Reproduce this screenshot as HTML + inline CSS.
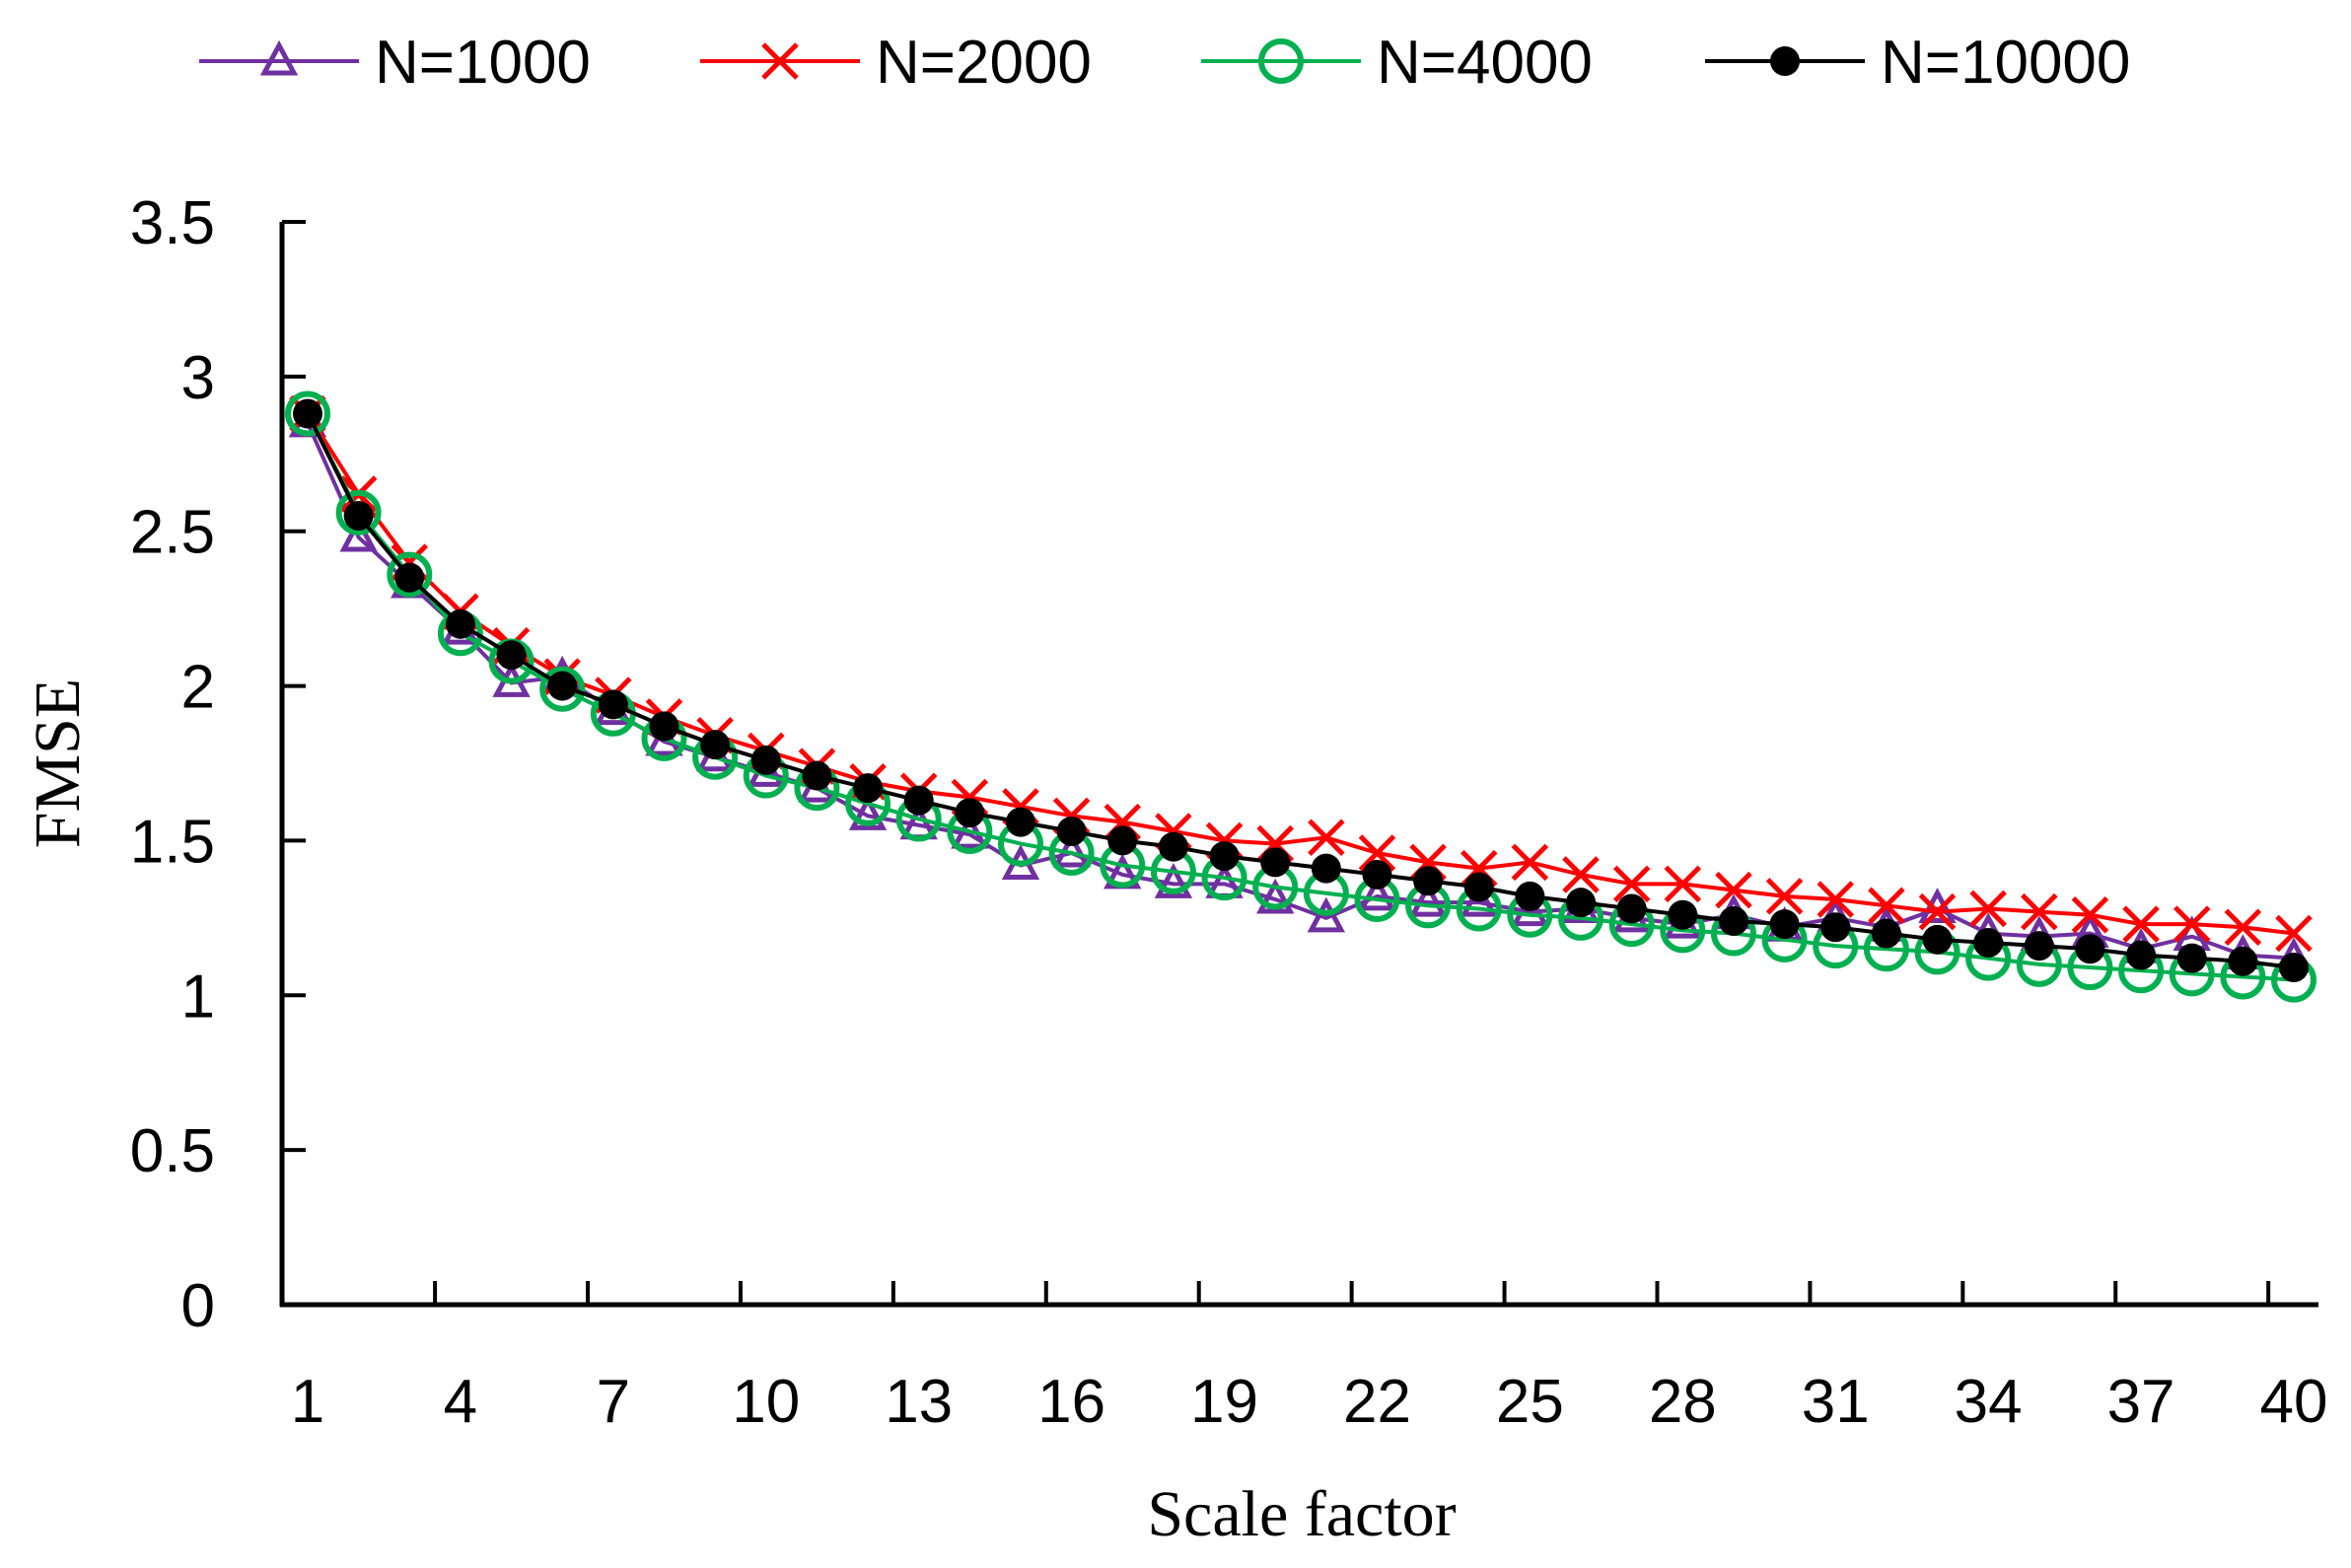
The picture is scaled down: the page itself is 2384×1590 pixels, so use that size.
<!DOCTYPE html>
<html><head><meta charset="utf-8"><style>
html,body{margin:0;padding:0;background:#fff;}
svg{display:block;}
.tick{font-family:"Liberation Sans",sans-serif;font-size:62px;fill:#000;}
.title{font-family:"Liberation Serif",serif;font-size:66px;fill:#000;}
</style></head><body>
<svg id="chart" width="2384" height="1590" viewBox="0 0 2384 1590" xmlns="http://www.w3.org/2000/svg">
<g id="legend"></g>
<g id="axes"></g>
<g id="series"></g>
<text class="title" x="1320" y="1557" text-anchor="middle">Scale factor</text>
<text class="title" transform="translate(80,774) rotate(-90)" text-anchor="middle">FMSE</text>
</svg>
<script>
const categories = Array.from({length:40},(_,i)=>i+1);
const yTicks = [0,0.5,1,1.5,2,2.5,3,3.5];
const yTickLabels = ["0","0.5","1","1.5","2","2.5","3","3.5"];
const xLabelValues = [1,4,7,10,13,16,19,22,25,28,31,34,37,40];
const n1000 = [2.85,2.48,2.33,2.18,2.01,2.03,1.92,1.82,1.77,1.72,1.67,1.58,1.55,1.52,1.42,1.46,1.39,1.36,1.36,1.31,1.25,1.32,1.3,1.3,1.27,1.28,1.25,1.23,1.26,1.22,1.25,1.22,1.28,1.2,1.19,1.2,1.15,1.19,1.13,1.12];
const n2000 = [2.88,2.62,2.4,2.24,2.13,2.03,1.97,1.9,1.84,1.79,1.74,1.69,1.66,1.64,1.61,1.58,1.56,1.53,1.5,1.49,1.51,1.46,1.43,1.41,1.43,1.39,1.36,1.36,1.34,1.32,1.31,1.29,1.27,1.28,1.27,1.26,1.23,1.23,1.22,1.2];
const n4000 = [2.88,2.56,2.36,2.17,2.08,1.99,1.91,1.83,1.77,1.71,1.67,1.62,1.57,1.53,1.49,1.46,1.42,1.4,1.38,1.35,1.33,1.31,1.29,1.28,1.26,1.25,1.23,1.21,1.2,1.18,1.16,1.15,1.14,1.12,1.1,1.09,1.08,1.07,1.06,1.05];
const n10000 = [2.88,2.55,2.35,2.2,2.1,2.0,1.94,1.87,1.81,1.76,1.71,1.67,1.63,1.59,1.56,1.53,1.5,1.48,1.45,1.43,1.41,1.39,1.37,1.35,1.32,1.3,1.28,1.26,1.24,1.23,1.22,1.2,1.18,1.17,1.16,1.15,1.13,1.12,1.11,1.09];

const NS="http://www.w3.org/2000/svg";
const X0=286, XR=2351, Y0=1323, YT=225;
const step=(2326-312)/39;
const x = c => 312 + (c-1)*step;
const y = v => Y0 - v*(Y0-YT)/3.5;
function mk(tag, attrs, parent){const e=document.createElementNS(NS,tag);for(const k in attrs)e.setAttribute(k,attrs[k]);parent.appendChild(e);return e;}

const axes=document.getElementById('axes');
let e=mk('line',{x1:X0,y1:YT,x2:X0,y2:Y0+2,stroke:'#000','stroke-width':5},axes);


e=mk('line',{x1:X0-2,y1:Y0,x2:XR,y2:Y0,stroke:'#000','stroke-width':5},axes);


yTicks.forEach((v,i)=>{
  let t=mk('line',{x1:X0,y1:y(v),x2:X0+24,y2:y(v),stroke:'#000','stroke-width':4},axes);
  
  
  let l=mk('text',{x:X0-68,y:y(v)+22,'text-anchor':'end',class:'tick'},axes);
  l.textContent=yTickLabels[i];
  
  
});
for(let k=1;k<=13;k++){
  const px=x(0.5+3*k);
  let t=mk('line',{x1:px,y1:Y0,x2:px,y2:Y0-24,stroke:'#000','stroke-width':4},axes);
  
  
}
xLabelValues.forEach(c=>{
  let l=mk('text',{x:x(c),y:1442,'text-anchor':'middle',class:'tick'},axes);
  l.textContent=String(c);
  
  
});

function marker(type,cx,cy,color,g){
  let m;
  if(type==='tri'){m=mk('polygon',{points:`${cx},${cy-16} ${cx-15},${cy+12} ${cx+15},${cy+12}`,fill:'none',stroke:color,'stroke-width':5},g);}
  else if(type==='x'){m=mk('path',{d:`M${cx-17},${cy-17}L${cx+17},${cy+17}M${cx-17},${cy+17}L${cx+17},${cy-17}`,stroke:color,'stroke-width':5,fill:'none'},g);}
  else if(type==='circle'){m=mk('circle',{cx:cx,cy:cy,r:20,fill:'none',stroke:color,'stroke-width':6},g);}
  else {m=mk('circle',{cx:cx,cy:cy,r:15,fill:color},g);}
  return m;
}
const seriesDefs=[
 {name:'N=1000',data:n1000,color:'#7030a0',m:'tri',key:'n1000'},
 {name:'N=2000',data:n2000,color:'#ff0000',m:'x',key:'n2000'},
 {name:'N=4000',data:n4000,color:'#00b050',m:'circle',key:'n4000'},
 {name:'N=10000',data:n10000,color:'#000000',m:'dot',key:'n10000'}
];
const sg=document.getElementById('series');
seriesDefs.forEach(s=>{
  const g=mk('g',{},sg);
  
  
  const p=mk('polyline',{points:s.data.map((v,i)=>x(categories[i])+','+y(v)).join(' '),fill:'none',stroke:s.color,'stroke-width':4},g);
  
  
  s.data.forEach((v,i)=>{
    const m=marker(s.m,x(categories[i]),y(v),s.color,g);
    
    
  });
});
const lg=document.getElementById('legend');
const legX=[202,710,1218,1729];
seriesDefs.forEach((s,i)=>{
  const g=mk('g',{},lg);
  
  
  const lx=legX[i], ly=62;
  mk('line',{x1:lx,y1:ly,x2:lx+162,y2:ly,stroke:s.color,'stroke-width':4},g);
  marker(s.m,lx+81,ly,s.color,g);
  const t=mk('text',{x:lx+178,y:ly+22,class:'tick'},g);
  t.textContent=s.name;
});
</script>
</body></html>
